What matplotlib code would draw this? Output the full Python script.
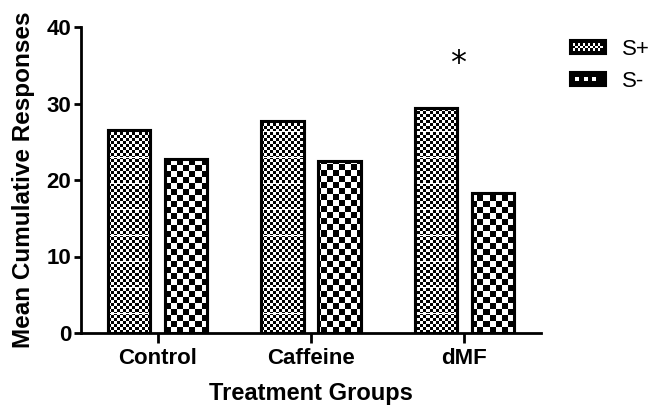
import numpy as np
import matplotlib
matplotlib.use("Agg")
import matplotlib.pyplot as plt
from matplotlib.patches import Rectangle
from matplotlib.legend_handler import HandlerBase

groups = ["Control", "Caffeine", "dMF"]
s_plus = [26.5, 27.7, 29.4]
s_minus = [22.7, 22.5, 18.3]
series_names = ["S+", "S-"]
yticks = [0, 10, 20, 30, 40]

plt.rcParams['font.family'] = ['Liberation Sans', 'DejaVu Sans']

W, H = 653, 407
fig = plt.figure(figsize=(W / 100, H / 100), dpi=100)
left, right, top, bottom = 81, 541, 27, 333
ax = fig.add_axes([left / W, 1 - bottom / H, (right - left) / W, (bottom - top) / H])

x = np.arange(len(groups))
bw = 0.275
off = 0.186

ax.set_xlim(-0.5, 2.5)
ax.set_ylim(0, 40)

axw, axh = right - left, bottom - top
ii, jj = np.mgrid[0:axh, 0:axw]
fine = ((ii // 3 + jj // 3) % 2).astype(float)
fine[(ii % 26) == 0] = 1.0
coarse = ((ii // 6 + jj // 6) % 2).astype(float)

def draw_series(xs, vals, tex):
    bars = ax.bar(xs, vals, width=bw, facecolor='black', edgecolor='black', linewidth=2.2, zorder=2)
    for b in bars:
        im = ax.imshow(tex, cmap='gray', vmin=0, vmax=1, interpolation='nearest',
                       extent=(-0.5, 2.5, 0, 40), origin='upper', aspect='auto', zorder=2.5)
        im.set_clip_path(b)
        outline = Rectangle(b.get_xy(), b.get_width(), b.get_height(), fill=False,
                            edgecolor='black', linewidth=2.2, zorder=3)
        ax.add_patch(outline)
    return bars

b1 = draw_series(x - off, s_plus, fine)
b2 = draw_series(x + off, s_minus, coarse)

ax.text(1.96, 35.2, "*", fontsize=23, ha='center', va='center', family='DejaVu Sans')

for s in ['top', 'right']:
    ax.spines[s].set_visible(False)
for s in ['left', 'bottom']:
    ax.spines[s].set_linewidth(2)
ax.set_xticks(x)
ax.set_xticklabels(groups, fontsize=16, fontweight='bold')
ax.set_yticks(yticks)
ax.set_yticklabels([str(v) for v in yticks], fontsize=16, fontweight='bold')
ax.tick_params(axis='x', length=7, width=2, pad=4)
ax.tick_params(axis='y', length=5, width=2, pad=2)
ax.set_xlabel("Treatment Groups", fontsize=17, fontweight='bold', labelpad=9)
ax.set_ylabel("Mean Cumulative Responses", fontsize=17.5, fontweight='bold', labelpad=8)


class TexHandler(HandlerBase):
    def __init__(self, cell):
        super().__init__()
        self.cell = cell

    def create_artists(self, legend, orig_handle, xdescent, ydescent, width, height, fontsize, trans):
        arts = [Rectangle((-xdescent, -ydescent), width, height, facecolor='black',
                          edgecolor='black', linewidth=1.5, transform=trans)]
        c = self.cell
        nx = int(width // c)
        ny = int(height // c)
        x0 = -xdescent + (width - nx * c) / 2
        y0 = -ydescent + (height - ny * c) / 2
        for a in range(1, nx - 1):
            for bb in range(1, ny - 1):
                if (a + bb) % 2 == 0:
                    arts.append(Rectangle((x0 + a * c, y0 + bb * c), c, c, facecolor='white',
                                          edgecolor='none', transform=trans))
        return arts

h1 = Rectangle((0, 0), 1, 1)
h2 = Rectangle((0, 0), 1, 1)
leg = fig.legend([h1, h2], series_names, loc='upper left', bbox_to_anchor=(570 / W, 1 - 39 / H),
                 frameon=False, fontsize=16, handlelength=1.6, handleheight=0.6,
                 labelspacing=0.5, handletextpad=0.75, borderpad=0, borderaxespad=0,
                 handler_map={h1: TexHandler(1.8), h2: TexHandler(3.0)})

fig.savefig("out.png", dpi=100)
